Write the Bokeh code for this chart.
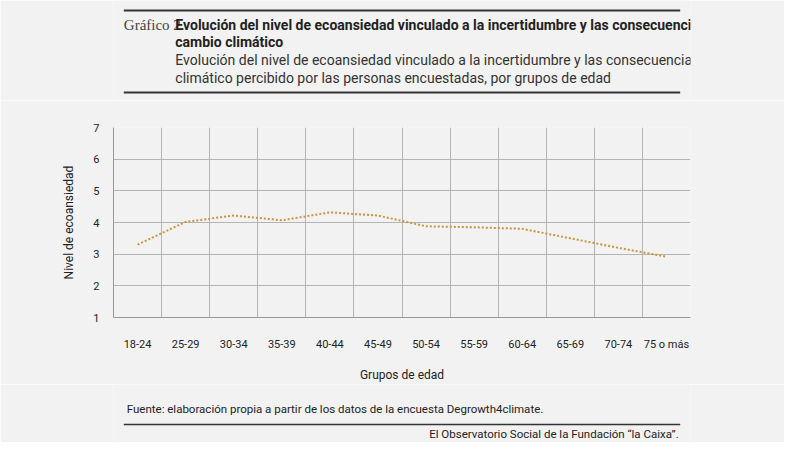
from bokeh.plotting import figure
from bokeh.models import Label, FixedTicker, Range1d
from bokeh.layouts import column
from bokeh.embed import file_html
from bokeh.resources import INLINE

categories = ["18-24","25-29","30-34","35-39","40-44","45-49","50-54","55-59","60-64","65-69","70-74","75 o más"]
values = [3.3, 4.02, 4.22, 4.07, 4.32, 4.22, 3.88, 3.85, 3.80, 3.50, 3.20, 2.92]
y_ticks = [1, 2, 3, 4, 5, 6, 7]

W = 784
BG = "#f2f2f2"

def blank(h, top):
    f = figure(width=W, height=h, output_backend="svg", toolbar_location=None,
               x_range=Range1d(8, 8 + W), y_range=Range1d(top + h, top),
               min_border=0, background_fill_color=BG, border_fill_color=BG, outline_line_color=None)
    f.axis.visible = False
    f.grid.visible = False
    return f

def lab(f, x, y, text, size="14px", style="normal", color="#333333", align="left", font="Roboto"):
    f.add_layout(Label(x=x, y=y, text=text, text_font=font, text_font_size=size, text_font_style=style,
                       text_color=color, text_align=align, text_baseline="middle"))

# header
hd = blank(100, 8)
hd.quad(left=[22, 22], right=[778, 778], top=[17, 99], bottom=[19, 101], fill_color="#333333", line_color=None)
lab(hd, 22, 32, "Gráfico 2.", size="15px", font="Liberation Serif", color="#444444")
lab(hd, 92, 32, "Evolución del nivel de ecoansiedad vinculado a la incertidumbre y las consecuencias del", style="bold", color="#222222")
lab(hd, 92, 49, "cambio climático", style="bold", color="#222222")
lab(hd, 92, 67, "Evolución del nivel de ecoansiedad vinculado a la incertidumbre y las consecuencias del cambio")
lab(hd, 92, 85, "climático percibido por las personas encuestadas, por grupos de edad")

# main plot
p = figure(width=W, height=284, output_backend="svg", toolbar_location=None,
           x_range=Range1d(0, len(categories)), y_range=Range1d(1, 7),
           min_border_left=113, min_border_right=94, min_border_top=27, min_border_bottom=57,
           background_fill_color=BG, border_fill_color=BG, outline_line_color=None)
xs = [i + 0.5 for i in range(len(categories))]
p.line(xs, values, line_color="#c8963e", line_width=2, line_dash="2 2")
p.xaxis.ticker = FixedTicker(ticks=xs)
p.xaxis.major_label_overrides = {x: c for x, c in zip(xs, categories)}
p.yaxis.ticker = FixedTicker(ticks=y_ticks)
p.xgrid.ticker = FixedTicker(ticks=list(range(1, len(categories))))
for ax in (p.xaxis[0], p.yaxis[0]):
    ax.axis_line_color = "#999999"
    ax.major_tick_line_color = None
    ax.minor_tick_line_color = None
    ax.major_label_text_font = "Roboto"
    ax.major_label_text_font_size = "11px"
    ax.major_label_text_color = "#222222"
    ax.axis_label_text_font = "Roboto"
    ax.axis_label_text_font_size = "12px"
    ax.axis_label_text_font_style = "normal"
    ax.axis_label_text_color = "#222222"
p.xaxis.major_label_standoff = 14
p.yaxis.major_label_standoff = 8
p.xaxis.axis_label = "Grupos de edad"
p.xaxis.axis_label_standoff = 14
p.yaxis.axis_label = "Nivel de ecoansiedad"
p.yaxis.axis_label_standoff = 14
for g in (p.xgrid[0], p.ygrid[0]):
    g.grid_line_color = "#b4b4b4"
    g.grid_line_width = 1

# footer
ft = blank(58, 392)
ft.quad(left=[22], right=[778], top=[431.25], bottom=[432.75], fill_color="#333333", line_color=None)
lab(ft, 26, 416, "Fuente: elaboración propia a partir de los datos de la encuesta Degrowth4climate.", size="11.5px", color="#222222")
lab(ft, 776, 441, "El Observatorio Social de la Fundación “la Caixa”.", size="11.5px", color="#222222", align="right")

layout = column(hd, p, ft, spacing=0)
open("out.html", "w").write(file_html(layout, INLINE))
